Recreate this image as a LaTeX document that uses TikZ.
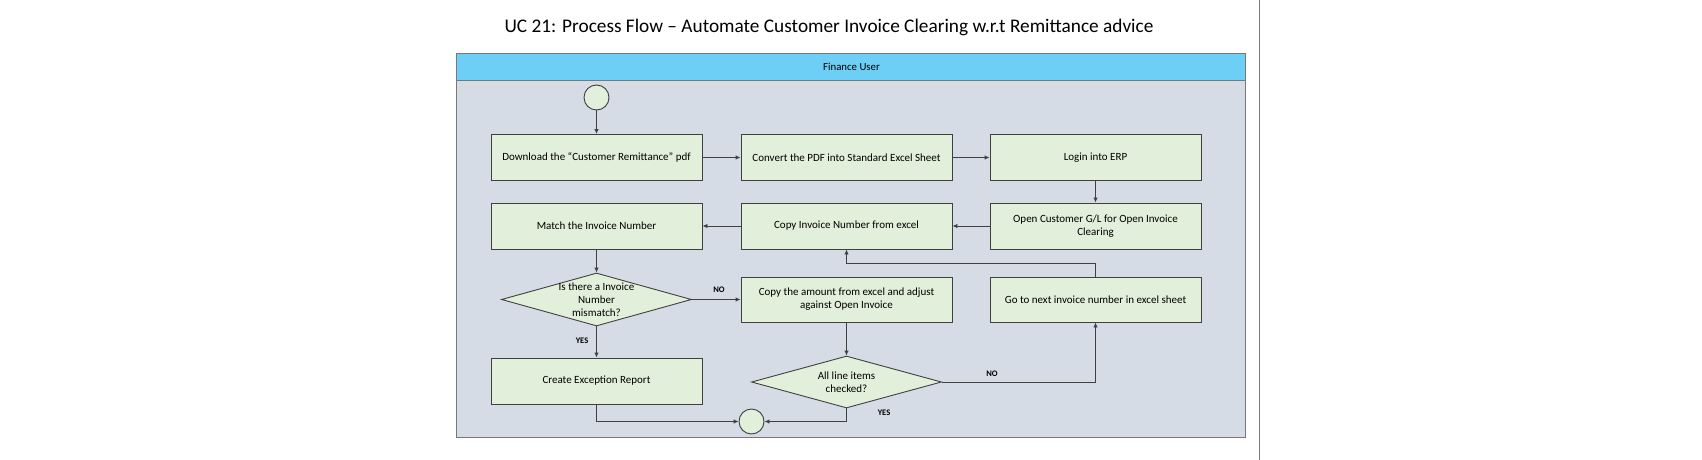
\documentclass[tikz,border=0pt]{standalone}
\usepackage{fontspec}
\setmainfont{Carlito}
\usetikzlibrary{shapes.geometric,arrows.meta}
\definecolor{hdr}{RGB}{109,207,246}
\definecolor{lanebg}{RGB}{214,220,229}
\definecolor{boxfill}{RGB}{226,239,218}
\definecolor{edgec}{RGB}{64,64,64}
\definecolor{lanebd}{RGB}{120,120,120}
\begin{document}
\begin{tikzpicture}[x=1pt,y=-1pt,
 procbox/.style={draw=edgec, fill=boxfill, line width=0.9pt, minimum width=211pt, minimum height=46pt, inner sep=0pt, align=center, font=\fontsize{11}{13}\selectfont},
 decision/.style={diamond, draw=edgec, fill=boxfill, line width=0.9pt, minimum width=190pt, minimum height=53pt, inner sep=0pt},
 dtext/.style={align=center, font=\fontsize{11}{12.8}\selectfont, inner sep=0pt},
 term/.style={circle, draw=edgec, fill=boxfill, line width=0.9pt, minimum size=25pt, inner sep=0pt},
 flow/.style={draw=edgec, line width=0.9pt, -{Latex[length=5pt,width=4.5pt]}},
 lbl/.style={font=\bfseries\fontsize{8.5}{10}\selectfont, inner sep=0pt},
]
\fill[white] (0,0) rectangle (1702,460);
\useasboundingbox (0,0) rectangle (1702,460);

\node[font=\fontsize{19.3}{23}\selectfont, inner sep=0pt] (title) at (829,27) {UC 21: Process Flow – Automate Customer Invoice Clearing w.r.t Remittance advice};

\node[draw=lanebd, fill=lanebg, line width=1pt, minimum width=789pt, minimum height=384pt, inner sep=0pt, anchor=north west] (lane) at (456,53) {};
\node[draw=lanebd, fill=hdr, line width=1pt, minimum width=789pt, minimum height=27pt, inner sep=0pt, anchor=north west] (header) at (456,53) {};
\node[font=\fontsize{10.8}{12}\selectfont, inner sep=0pt] (hdrtext) at (851.5,66.5) {Finance User};

\coordinate (vtop) at (1259,0);
\coordinate (vbot) at (1259,460);
\draw[lanebd, line width=1pt] (vtop) -- (vbot);

\node[term] (start) at (596.5,97.5) {};
\node[procbox] (download) at (596.5,157.5) {Download the “Customer Remittance” pdf};
\node[procbox] (convert) at (846.5,157.5) {Convert the PDF into Standard Excel Sheet};
\node[procbox] (login) at (1095.5,157.5) {Login into ERP};
\node[procbox] (open) at (1095.5,226) {Open Customer G/L for Open Invoice\\Clearing};
\node[procbox] (copyinv) at (846.5,226) {Copy Invoice Number from excel};
\node[procbox] (match) at (596.5,226) {Match the Invoice Number};
\node[decision] (d1) at (596.5,299.5) {};
\node[dtext] (d1text) at (596.5,299.5) {Is there a Invoice\\Number\\mismatch?};
\node[procbox, minimum height=45pt] (copyamt) at (846.5,299.5) {Copy the amount from excel and adjust\\against Open Invoice};
\node[procbox, minimum height=45pt] (goto) at (1095.5,299.5) {Go to next invoice number in excel sheet};
\node[procbox] (create) at (596.5,381) {Create Exception Report};
\node[decision, minimum height=52pt] (d2) at (846.5,382) {};
\node[dtext] (d2text) at (846.5,382.5) {All line items\\checked?};
\node[term] (end) at (751.5,421.5) {};

\draw[flow] (start) -- (download);
\draw[flow] (download) -- (convert);
\draw[flow] (convert) -- (login);
\draw[flow] (login) -- (open);
\draw[flow] (open) -- (copyinv);
\draw[flow] (copyinv) -- (match);
\draw[flow] (match) -- (d1);
\draw[flow] (d1.east) -- (copyamt.west);
\draw[flow] (d1.south) -- (create.north);
\draw[flow] (copyamt) -- (d2);
\draw[flow] (d2.east) -| (goto.south);
\draw[flow] (goto.north) -- ++(0,-13) -| (copyinv.south);
\draw[flow] (d2.south) |- (end.east);
\draw[flow] (create.south) |- (end.west);

\node[lbl] (no1) at (719,290) {NO};
\node[lbl] (yes1) at (582,340.5) {YES};
\node[lbl] (no2) at (992,374) {NO};
\node[lbl] (yes2) at (884,413) {YES};
\end{tikzpicture}
\end{document}
